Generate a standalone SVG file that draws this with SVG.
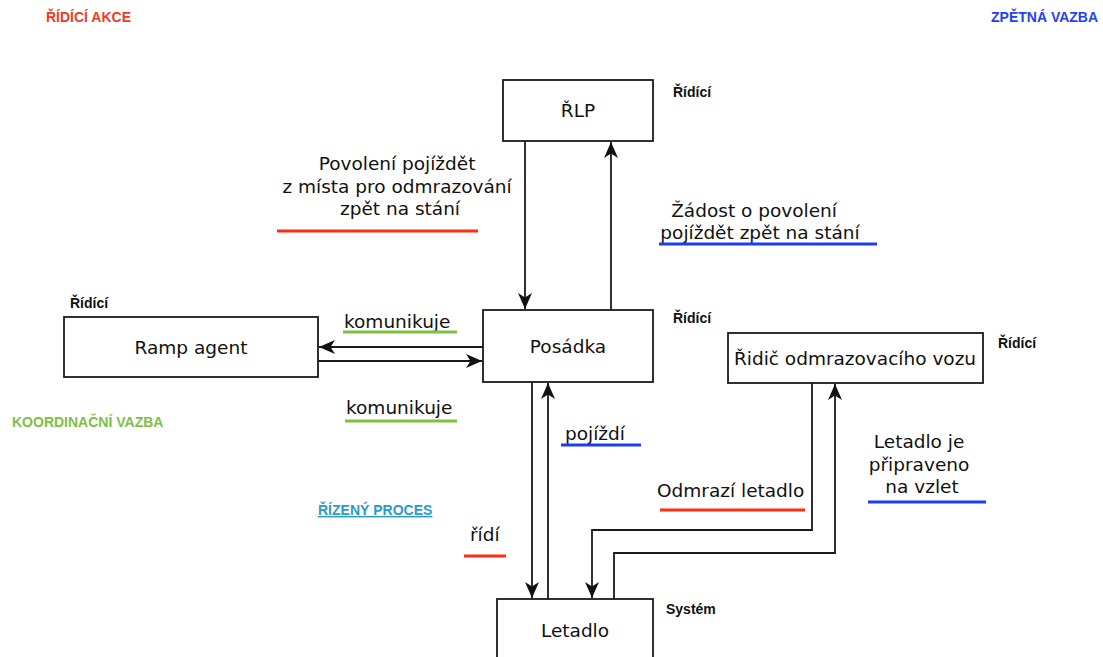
<svg xmlns="http://www.w3.org/2000/svg" width="1103" height="657" viewBox="0 0 1103 657">
  <defs>
    <marker id="arrow" viewBox="-17 -8 18 16" markerWidth="18" markerHeight="16" refX="0" refY="0" orient="auto" markerUnits="userSpaceOnUse">
      <path d="M0,0 L-16,-7 L-11.5,0 L-16,7 Z" fill="#111"/>
    </marker>
    <style>
      .box { fill: #fff; stroke: #1a1a1a; stroke-width: 1.8; }
      .node { font-family: "DejaVu Sans", "Liberation Sans", sans-serif; font-size: 18.5px; fill: #111; text-anchor: middle; }
      .lbl { font-family: "DejaVu Sans", "Liberation Sans", sans-serif; font-size: 18.5px; fill: #111; }
      .tag { font-family: "Liberation Sans", Arial, sans-serif; font-size: 14px; font-weight: bold; fill: #111; }
      .legend { font-family: "Liberation Sans", Arial, sans-serif; font-size: 14px; font-weight: bold; }
      .edge { fill: none; stroke: #1a1a1a; stroke-width: 1.8; }
      .u-red { stroke: #ff2d12; stroke-width: 3; }
      .u-blue { stroke: #1d3cf5; stroke-width: 3; }
      .u-green { stroke: #7cc143; stroke-width: 3; }
    </style>
  </defs>

  <!-- legend -->
  <g id="legend">
    <text class="legend" x="46" y="22" fill="#f5391f">ŘÍDÍCÍ AKCE</text>
    <text class="legend" x="991" y="22" fill="#2141f5">ZPĚTNÁ VAZBA</text>
    <text class="legend" x="12" y="427" fill="#7cc143">KOORDINAČNÍ VAZBA</text>
    <text class="legend" x="318" y="515" fill="#2b9ac9" text-decoration="underline">ŘÍZENÝ PROCES</text>
  </g>

  <!-- connectors -->
  <g id="connectors">
    <path class="edge" d="M525,141 V309" marker-end="url(#arrow)"/>
    <path class="edge" d="M611,310 V142" marker-end="url(#arrow)"/>
    <path class="edge" d="M483,347 H319" marker-end="url(#arrow)"/>
    <path class="edge" d="M318,361 H482" marker-end="url(#arrow)"/>
    <path class="edge" d="M532,382 V598" marker-end="url(#arrow)"/>
    <path class="edge" d="M548,599 V383" marker-end="url(#arrow)"/>
    <path class="edge" d="M812,383 V530 H592 V598" marker-end="url(#arrow)"/>
    <path class="edge" d="M614,599 V553 H835 V384" marker-end="url(#arrow)"/>
  </g>

  <!-- connector labels -->
  <g id="edge-labels">
    <text class="lbl" text-anchor="middle">
      <tspan x="400" y="170">Povolení pojíždět</tspan>
      <tspan x="400" y="193">z místa pro odmrazování</tspan>
      <tspan x="400" y="215">zpět na stání</tspan>
    </text>
    <line class="u-red" x1="277" y1="231" x2="478" y2="231"/>

    <text class="lbl" text-anchor="middle">
      <tspan x="757" y="217">Žádost o povolení</tspan>
      <tspan x="760" y="239">pojíždět zpět na stání</tspan>
    </text>
    <line class="u-blue" x1="659" y1="244" x2="877" y2="244"/>

    <text class="lbl" x="344" y="328">komunikuje</text>
    <line class="u-green" x1="343" y1="332" x2="457" y2="332"/>

    <text class="lbl" x="346" y="414">komunikuje</text>
    <line class="u-green" x1="345" y1="421" x2="457" y2="421"/>

    <text class="lbl" x="565" y="440">pojíždí</text>
    <line class="u-blue" x1="561" y1="445" x2="641" y2="445"/>

    <text class="lbl" x="657" y="497">Odmrazí letadlo</text>
    <line class="u-red" x1="660" y1="510" x2="805" y2="510"/>

    <text class="lbl" text-anchor="middle">
      <tspan x="922" y="448">Letadlo je</tspan>
      <tspan x="922" y="471">připraveno</tspan>
      <tspan x="922" y="493">na vzlet</tspan>
    </text>
    <line class="u-blue" x1="868" y1="502" x2="986" y2="502"/>

    <text class="lbl" x="470" y="541" fill="#ff1a1a">řídí</text>
    <line class="u-red" x1="464" y1="556" x2="506" y2="556"/>
  </g>

  <!-- nodes -->
  <g id="node-rlp">
    <rect class="box" x="503" y="80" width="150" height="61"/>
    <text class="node" x="578" y="117">ŘLP</text>
    <text class="tag" x="673" y="97">Řídící</text>
  </g>

  <g id="node-posadka">
    <rect class="box" x="483" y="310" width="170" height="72"/>
    <text class="node" x="568" y="353">Posádka</text>
    <text class="tag" x="673" y="323">Řídící</text>
  </g>

  <g id="node-ramp-agent">
    <rect class="box" x="64" y="317" width="254" height="60"/>
    <text class="node" x="191" y="354">Ramp agent</text>
    <text class="tag" x="70" y="308">Řídící</text>
  </g>

  <g id="node-ridic">
    <rect class="box" x="728" y="333" width="255" height="50"/>
    <text class="node" x="855" y="365">Řidič odmrazovacího vozu</text>
    <text class="tag" x="998" y="348">Řídící</text>
  </g>

  <g id="node-letadlo">
    <rect class="box" x="497" y="599" width="156" height="80"/>
    <text class="node" x="575" y="637">Letadlo</text>
    <text class="tag" x="666" y="614">Systém</text>
  </g>
</svg>
